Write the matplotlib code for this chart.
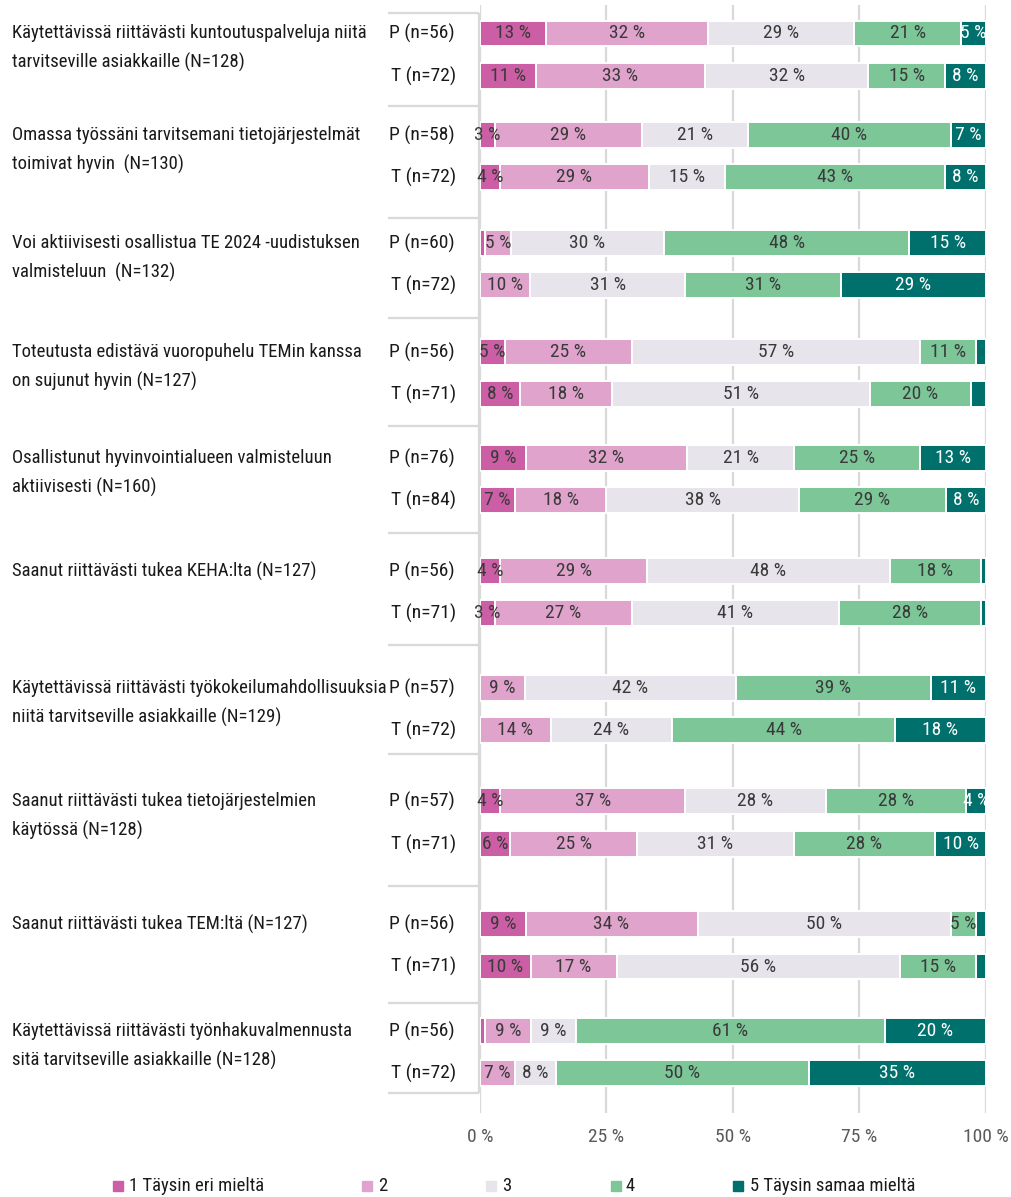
import matplotlib
matplotlib.use("Agg")
import matplotlib.pyplot as plt
from matplotlib.patches import Rectangle
from matplotlib import font_manager as fm
from matplotlib.textpath import TextToPath

# ---- data -------------------------------------------------------------
questions = [
    "Käytettävissä riittävästi kuntoutuspalveluja niitä\ntarvitseville asiakkaille (N=128)",
    "Omassa työssäni tarvitsemani tietojärjestelmät\ntoimivat hyvin  (N=130)",
    "Voi aktiivisesti osallistua TE 2024 -uudistuksen\nvalmisteluun  (N=132)",
    "Toteutusta edistävä vuoropuhelu TEMin kanssa\non sujunut hyvin (N=127)",
    "Osallistunut hyvinvointialueen valmisteluun\naktiivisesti (N=160)",
    "Saanut riittävästi tukea KEHA:lta (N=127)",
    "Käytettävissä riittävästi työkokeilumahdollisuuksia\nniitä tarvitseville asiakkaille (N=129)",
    "Saanut riittävästi tukea tietojärjestelmien\nkäytössä (N=128)",
    "Saanut riittävästi tukea TEM:ltä (N=127)",
    "Käytettävissä riittävästi työnhakuvalmennusta\nsitä tarvitseville asiakkaille (N=128)",
]
p_labels = ["P (n=56)", "P (n=58)", "P (n=60)", "P (n=56)", "P (n=76)",
            "P (n=56)", "P (n=57)", "P (n=57)", "P (n=56)", "P (n=56)"]
t_labels = ["T (n=72)", "T (n=72)", "T (n=72)", "T (n=71)", "T (n=84)",
            "T (n=71)", "T (n=72)", "T (n=71)", "T (n=71)", "T (n=72)"]

categories = ["1 Täysin eri mieltä", "2", "3", "4", "5 Täysin samaa mieltä"]

# shares of answers 1..5 (%, rounded)
p_values = [
    [13, 32, 29, 21, 5],
    [3, 29, 21, 40, 7],
    [1, 5, 30, 48, 15],
    [5, 25, 57, 11, 2],
    [9, 32, 21, 25, 13],
    [4, 29, 48, 18, 1],
    [0, 9, 42, 39, 11],
    [4, 37, 28, 28, 4],
    [9, 34, 50, 5, 2],
    [1, 9, 9, 61, 20],
]
t_values = [
    [11, 33, 32, 15, 8],
    [4, 29, 15, 43, 8],
    [0, 10, 31, 31, 29],
    [8, 18, 51, 20, 3],
    [7, 18, 38, 29, 8],
    [3, 27, 41, 28, 1],
    [0, 14, 24, 44, 18],
    [6, 25, 31, 28, 10],
    [10, 17, 56, 15, 2],
    [0, 7, 8, 50, 35],
]
x_ticks = [0, 25, 50, 75, 100]

# ---- style ------------------------------------------------------------
colors = ["#CC5EA6", "#E0A3CC", "#E7E4EC", "#7CC698", "#00706C"]
label_colors = ["#3A3A3A", "#3A3A3A", "#3A3A3A", "#3A3A3A", "white"]
min_label = [3, 3, 3, 3, 4]
grid_color = "#D9D9D9"
text_color = "#1A1A1A"


def pick_narrow_font():
    """Return FontProperties for the narrowest regular sans face available."""
    entries = fm.fontManager.ttflist

    def regular(f):
        return f.style == "normal" and f.weight in (400, "normal", "regular", "book")

    for key in ("Liberation Sans Narrow", "Roboto Condensed", "Open Sans Condensed",
                "Noto Sans Condensed", "Noto Sans ExtraCondensed"):
        for f in entries:
            if f.name == key and regular(f):
                return fm.FontProperties(fname=f.fname)
    for f in entries:
        if ("Narrow" in f.name or "Condensed" in f.name) and regular(f):
            return fm.FontProperties(fname=f.fname)
    for f in entries:
        if f.name == "DejaVu Sans" and f.stretch in ("condensed", "semi-condensed") and regular(f):
            return fm.FontProperties(fname=f.fname)
    return fm.FontProperties(family="Liberation Sans")


BASE = pick_narrow_font()
_t2p = TextToPath()


def fitted(sample, width_px, max_pt):
    """Font properties sized so that `sample` spans about width_px pixels."""
    prop = BASE.copy()
    prop.set_size(10)
    w, _, _ = _t2p.get_text_width_height_descent(sample, prop, ismath=False)
    size = min(max_pt, 10 * width_px / (w * 100 / 72))
    prop.set_size(size)
    return prop


f_question = fitted("Käytettävissä riittävästi kuntoutuspalveluja niitä", 354, 14)
f_row = fitted("P (n=56)", 69, 14)
f_value = fitted("32 %", 39, 14)
f_tick = fitted("25 %", 39, 14)
f_legend = fitted("1 Täysin eri mieltä", 135, 14)

W, H = 1012, 1197
fig = plt.figure(figsize=(W / 100, H / 100), dpi=100)

# pixel-space overlay for texts and frame lines
ax0 = fig.add_axes([0, 0, 1, 1])
ax0.set_xlim(0, W)
ax0.set_ylim(H, 0)
ax0.axis("off")

# bar axes: 0..100 % across the bar column
x0_px, x1_px = 480, 986
ax = fig.add_axes([x0_px / W, 0, (x1_px - x0_px) / W, 1])
ax.set_xlim(0, 100)
ax.set_ylim(H, 0)
ax.axis("off")

# row layout (pixel rows)
p_rows = [33.5, 135, 243, 352, 458, 571, 688, 801, 924, 1031]
t_rows = [76, 177, 285, 394, 500, 613, 730, 844, 966.5, 1073]
separators = [13, 106, 218, 318, 426, 533, 645, 754, 886, 1003, 1093]
bar_h = 25.5

# grid lines and percent scale
ax.vlines(x_ticks, 5, 1113, color=grid_color, lw=1.6, zorder=0)
for t in x_ticks:
    ax.text(t, 1137, f"{t} %", ha="center", va="center", fontproperties=f_tick,
            color="#595959")

# frame of the label column
ax0.hlines(separators, 388, 479, color=grid_color, lw=1.6)
ax0.vlines(479, separators[0], separators[-1], color=grid_color, lw=1.6)


def draw_row(values, y):
    # rounded shares are rescaled so every bar spans exactly 100 %
    total = sum(values)
    left = 0.0
    for k, v in enumerate(values):
        share = v * 100.0 / total
        if v > 0:
            ax.barh(y, share, left=left, height=bar_h, color=colors[k],
                    edgecolor="white", linewidth=1.4, zorder=2)
            if v >= min_label[k]:
                ax.text(left + share / 2, y, f"{v} %", ha="center", va="center",
                        fontproperties=f_value, color=label_colors[k], zorder=3)
        left += share


for i, q in enumerate(questions):
    draw_row(p_values[i], p_rows[i])
    draw_row(t_values[i], t_rows[i])
    ax0.text(389, p_rows[i], p_labels[i], ha="left", va="center",
             fontproperties=f_row, color=text_color)
    ax0.text(391, t_rows[i], t_labels[i], ha="left", va="center",
             fontproperties=f_row, color=text_color)
    for j, line in enumerate(q.split("\n")):
        ax0.text(12, p_rows[i] + j * 29, line, ha="left", va="center",
                 fontproperties=f_question, color=text_color)

# legend
legend_x = [(113, 129), (362, 378), (486, 502), (611, 626), (733, 750)]
for (sx, tx), c, lab in zip(legend_x, colors, categories):
    ax0.add_patch(Rectangle((sx, 1181), 10, 10, color=c))
    ax0.text(tx, 1186, lab, ha="left", va="center", fontproperties=f_legend,
             color=text_color)

fig.savefig("out.png", dpi=100)
